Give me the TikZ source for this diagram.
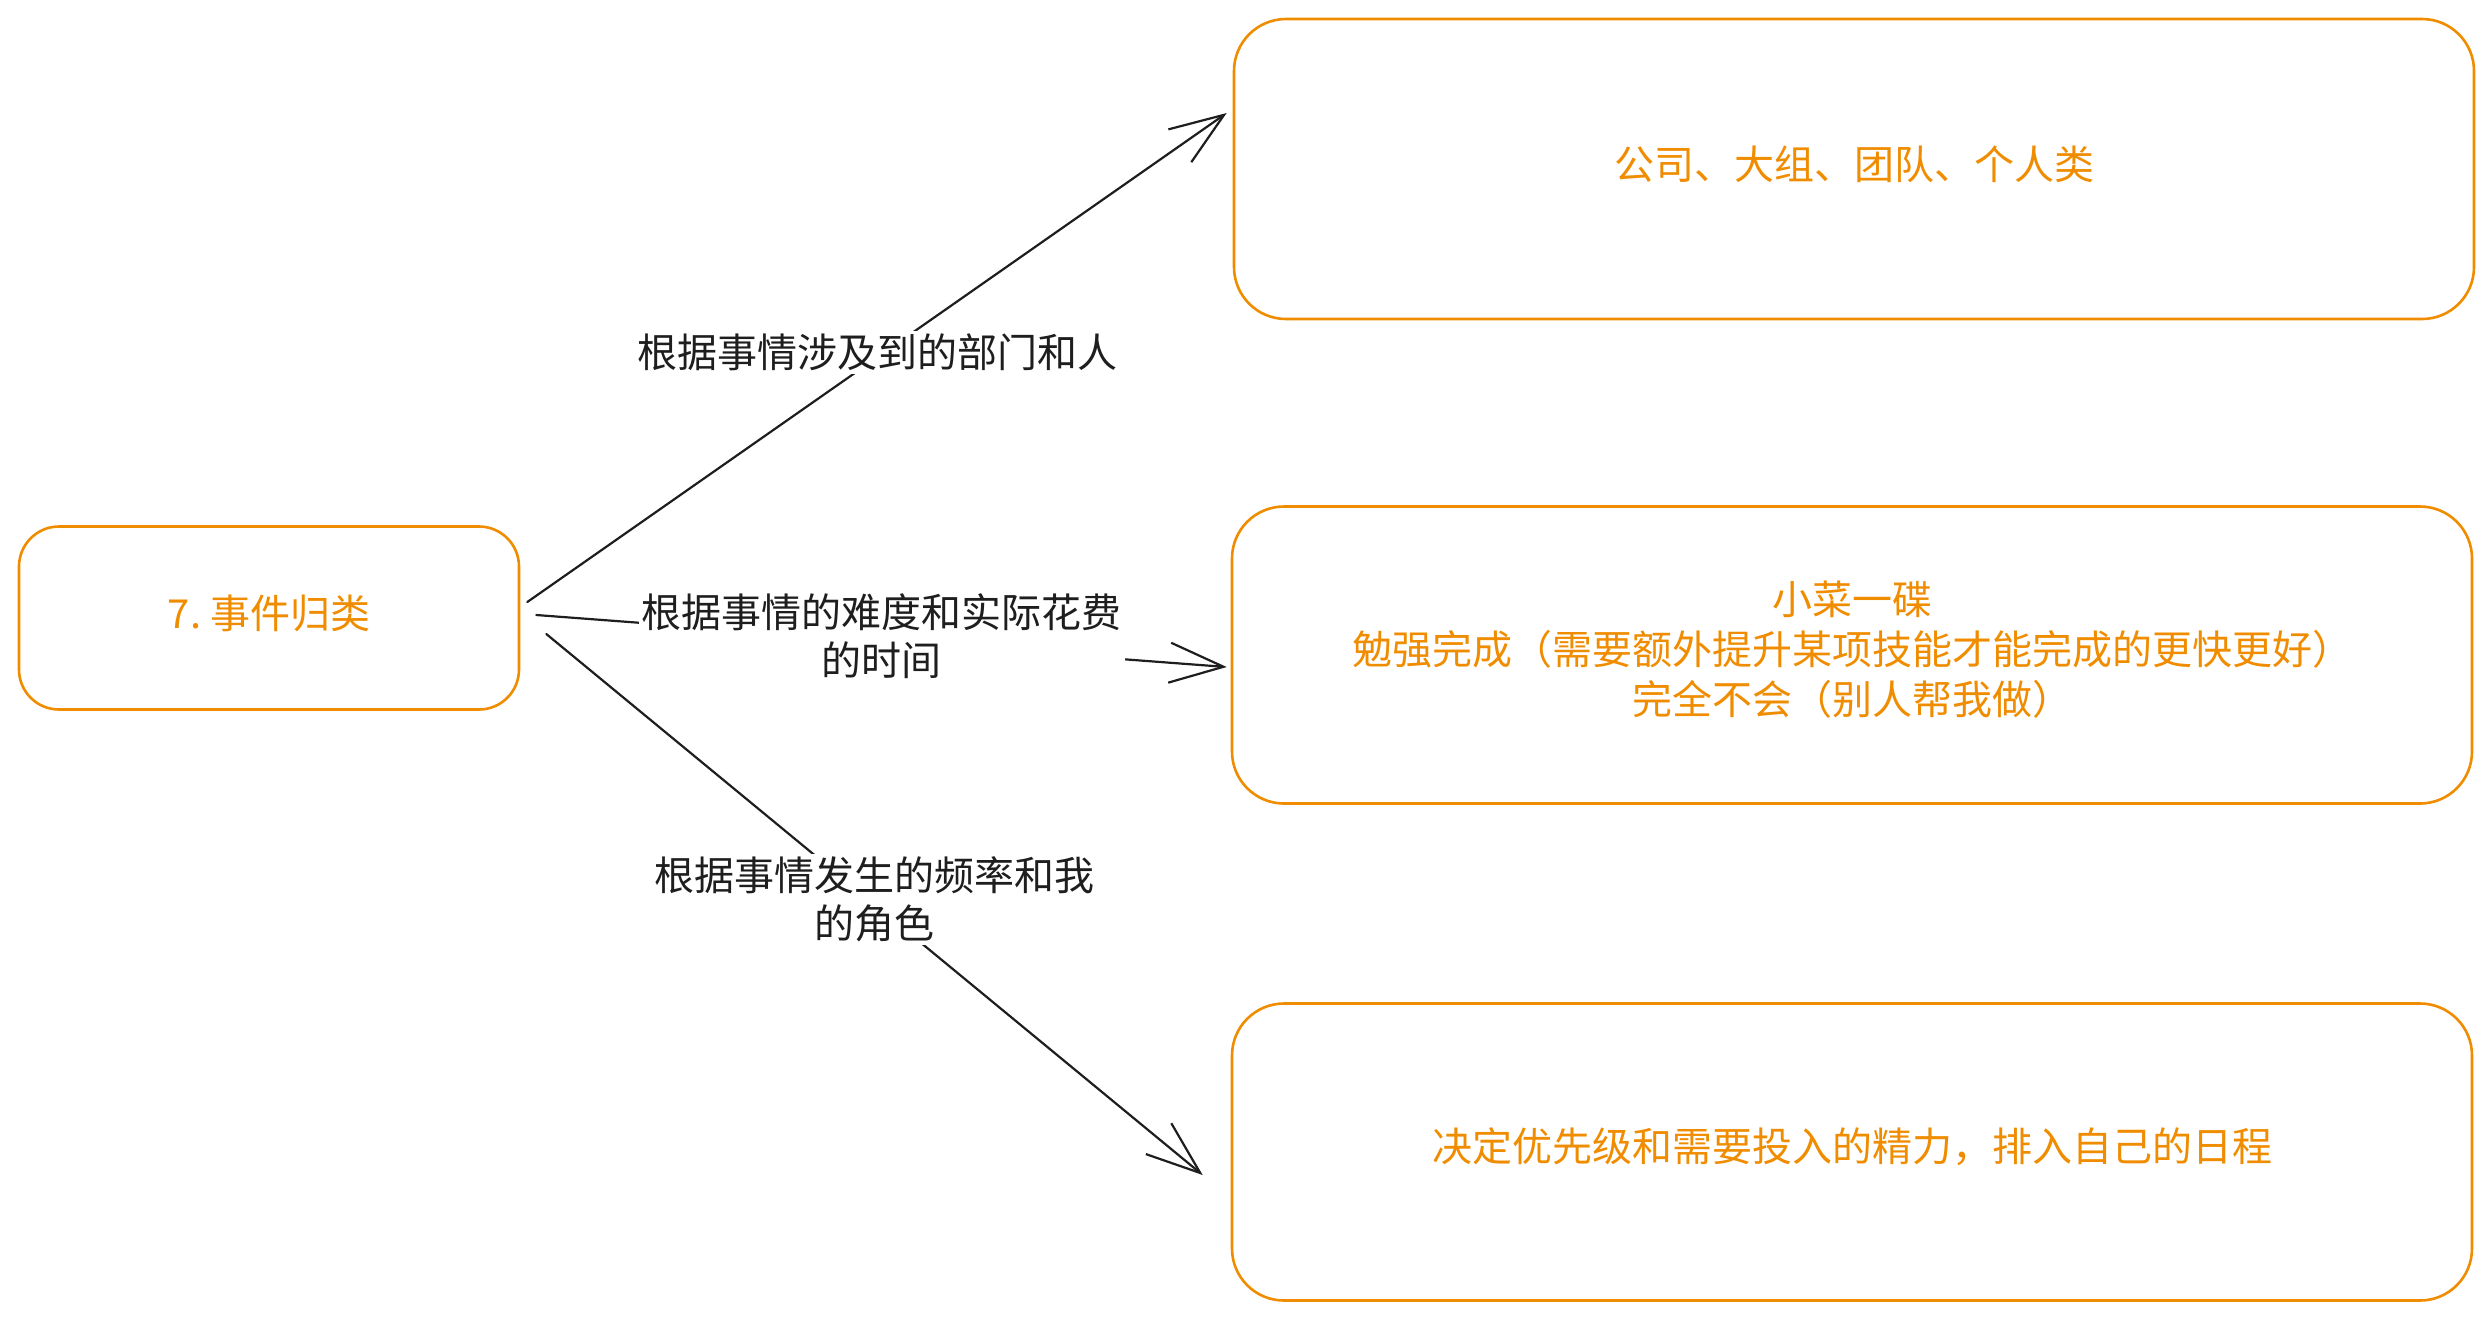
\documentclass[tikz,border=0pt]{standalone}
\usepackage{fontspec}
\setmainfont{Noto Sans CJK SC}
\usetikzlibrary{arrows.meta}
\definecolor{exorange}{HTML}{F08C00}
\definecolor{exblack}{HTML}{1E1E1E}
\begin{document}
\begin{tikzpicture}[x=0.5pt,y=-0.5pt,
  box/.style={draw=exorange, line width=1.3pt, rounded corners=26pt, inner sep=0pt},
  boxtext/.style={text=exorange, font=\fontsize{20pt}{25pt}\selectfont, align=center, inner sep=0pt},
  lbl/.style={fill=white, text=exblack, font=\fontsize{20pt}{24pt}\selectfont,
    align=center, inner sep=1.5pt},
  conn/.style={draw=exblack, line width=1.1pt, line cap=round,
    -{Straight Barb[length=27pt,width=20pt,line width=1.1pt]}}]
\useasboundingbox (0,0) rectangle (2491,1319);
\node[box, rounded corners=20pt, minimum width=250pt, minimum height=91.5pt] (L) at (269,618) {};
\node[box, minimum width=620pt, minimum height=150pt] (A) at (1854,169) {};
\node[box, minimum width=620pt, minimum height=148.5pt] (B) at (1852,655) {};
\node[box, minimum width=620pt, minimum height=148.5pt] (C) at (1852,1152) {};
\node[boxtext] (Lt) at ([yshift=2.5pt]L.center) {7.\ 事件归类};
\node[boxtext] (At) at ([yshift=2.5pt]A.center) {公司、大组、团队、个人类};
\node[boxtext] (Bt) at ([yshift=2.5pt]B.center)
  {小菜一碟\\勉强完成（需要额外提升某项技能才能完成的更快更好）\\完全不会（别人帮我做）};
\node[boxtext] (Ct) at ([yshift=2.5pt]C.center) {决定优先级和需要投入的精力，排入自己的日程};
\draw[conn] ([xshift=3.5pt,yshift=8pt]L.east) -- node[lbl, yshift=2.5pt] (la) {根据事情涉及到的部门和人}
  ([xshift=-3pt,yshift=28pt]A.west);
\draw[conn] ([xshift=8pt,yshift=1.5pt]L.east) -- node[lbl, yshift=2.5pt] (lb) {根据事情的难度和实际花费\\的时间}
  ([xshift=-2pt,yshift=-6pt]B.west);
\draw[conn] ([xshift=13pt,yshift=-8pt]L.east) -- node[lbl, yshift=2.5pt] (lc) {根据事情发生的频率和我\\的角色}
  ([xshift=-14pt,yshift=-11.5pt]C.west);
\end{tikzpicture}
\end{document}
